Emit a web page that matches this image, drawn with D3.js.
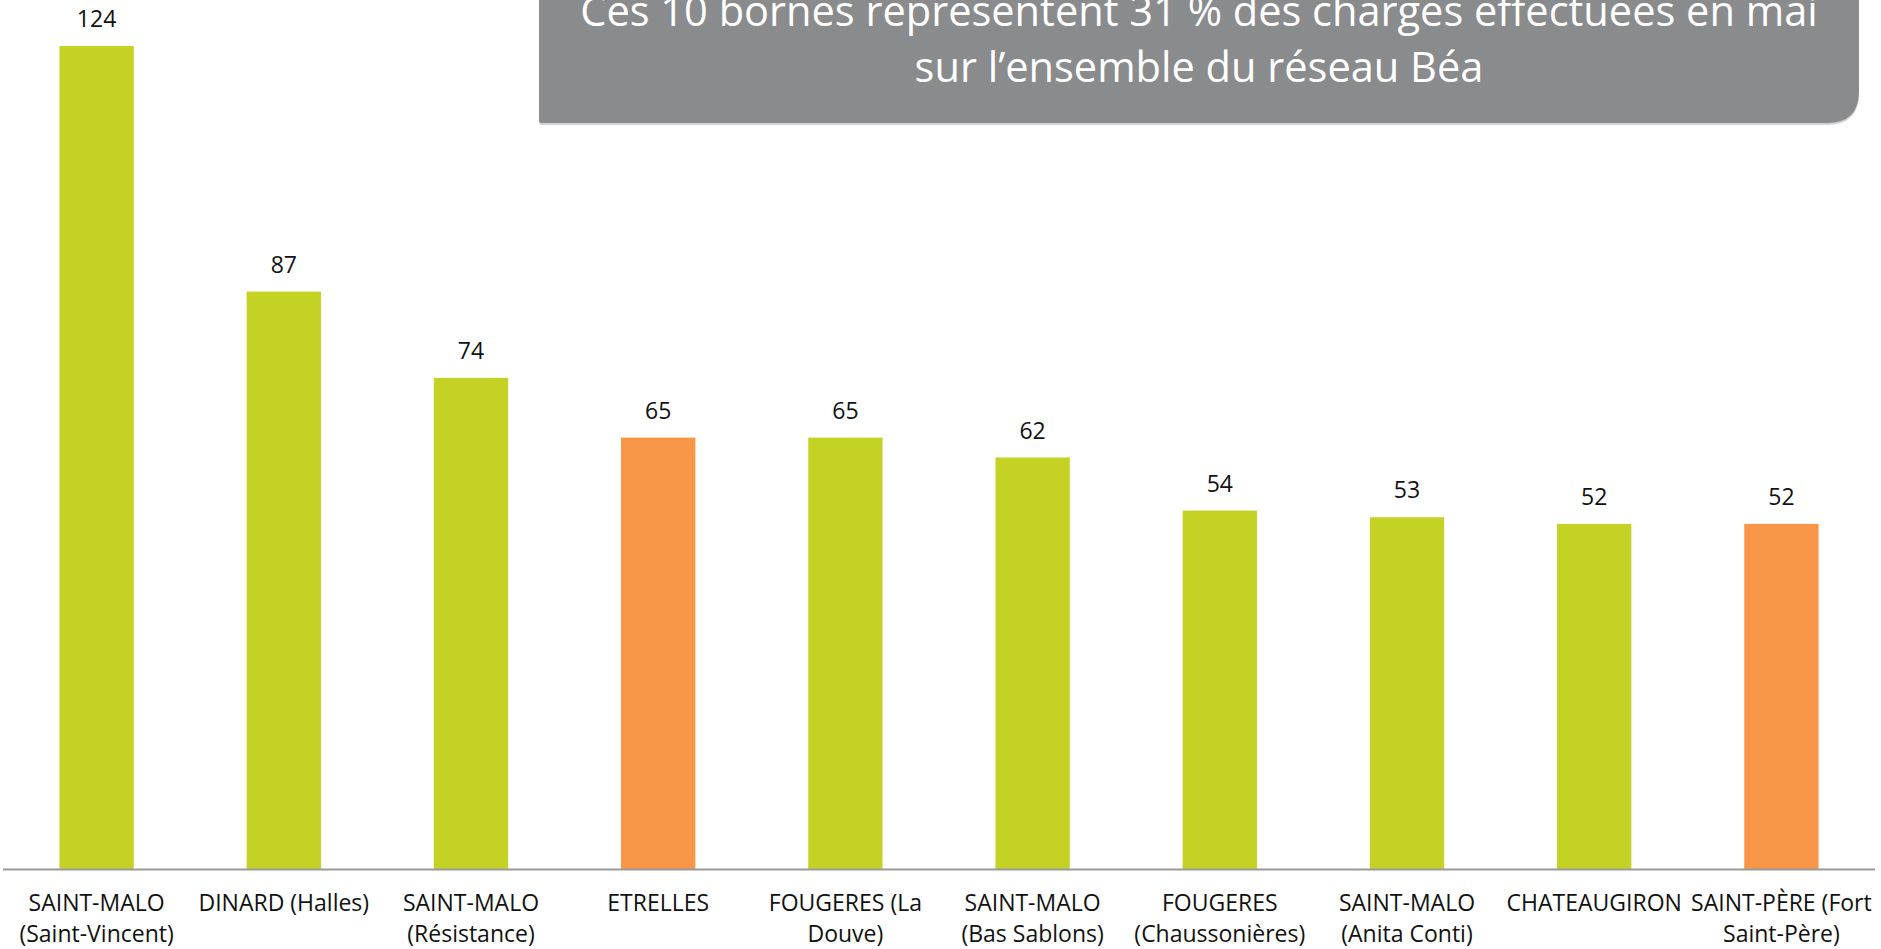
<!DOCTYPE html>
<html>
<head>
<meta charset="utf-8">
<script src="https://cdn.jsdelivr.net/npm/d3@7"></script>
<style>
  html, body { margin: 0; padding: 0; background: #fff; overflow: hidden; }
  svg { display: block; font-family: 'Open Sans', sans-serif; }
</style>
</head>
<body>
<svg id="chart" width="1881" height="949"></svg>
<script>
// Data
const categories = [
    'SAINT-MALO\n(Saint-Vincent)',
    'DINARD (Halles)',
    'SAINT-MALO\n(Résistance)',
    'ETRELLES',
    'FOUGERES (La\nDouve)',
    'SAINT-MALO\n(Bas Sablons)',
    'FOUGERES\n(Chaussonières)',
    'SAINT-MALO\n(Anita Conti)',
    'CHATEAUGIRON',
    'SAINT-PÈRE (Fort\nSaint-Père)'
];
const values = [124, 87, 74, 65, 65, 62, 54, 53, 52, 52];
const highlighted = [false, false, false, true, false, false, false, false, false, true];
const titleLines = [
    'Ces 10 bornes représentent 31 % des charges effectuées en mai',
    'sur l\u2019ensemble du réseau Béa'
];

const green = '#c4d226';
const orange = '#f79646';

const svg = d3.select('#chart');

// Scales
const x = d3.scaleBand()
    .domain(d3.range(categories.length))
    .range([3, 1875])
    .paddingInner(0.603)
    .paddingOuter(0.3015);

const y = d3.scaleLinear()
    .domain([0, d3.max(values)])
    .range([869, 46]);

// Bars
svg.append('g')
    .selectAll('rect')
    .data(values)
    .join('rect')
    .attr('x', (d, i) => x(i))
    .attr('y', d => y(d))
    .attr('width', x.bandwidth())
    .attr('height', d => y(0) - y(d))
    .attr('fill', (d, i) => highlighted[i] ? orange : green);

// Value labels
svg.append('g')
    .selectAll('text')
    .data(values)
    .join('text')
    .attr('x', (d, i) => x(i) + x.bandwidth() / 2)
    .attr('y', d => y(d) - 19)
    .attr('text-anchor', 'middle')
    .style('font-size', '23px')
    .style('fill', '#111')
    .text(d => d);

// X axis line
svg.append('line')
    .attr('x1', 3)
    .attr('x2', 1875)
    .attr('y1', y(0) + 0.5)
    .attr('y2', y(0) + 0.5)
    .attr('stroke', '#9a9a9a')
    .attr('stroke-width', 2);

// Category labels (two lines max)
const catLabels = svg.append('g')
    .selectAll('text')
    .data(categories)
    .join('text')
    .attr('x', (d, i) => x(i) + x.bandwidth() / 2)
    .attr('y', 911)
    .attr('text-anchor', 'middle')
    .style('font-size', '23px')
    .style('fill', '#111');

catLabels.each(function(d) {
    const t = d3.select(this);
    const cx = t.attr('x');
    d.split('\n').forEach((line, k) => {
        t.append('tspan')
            .attr('x', cx)
            .attr('dy', k === 0 ? 0 : 31)
            .text(line);
    });
});

// Title box (only bottom-right corner rounded)
const bx0 = 539, bx1 = 1859, by1 = 123, r = 32;
const boxPath = `M${bx0},-10 L${bx1},-10 L${bx1},${by1 - r} Q${bx1},${by1} ${bx1 - r},${by1} L${bx0 + 3},${by1} Q${bx0},${by1} ${bx0},${by1 - 3} Z`;

svg.append('path')
    .attr('d', boxPath)
    .attr('transform', 'translate(0,2)')
    .attr('fill', '#d4d4d4');

svg.append('path')
    .attr('d', boxPath)
    .attr('fill', '#8a8b8d');

const title = svg.append('g')
    .selectAll('text')
    .data(titleLines)
    .join('text')
    .attr('x', (bx0 + bx1) / 2)
    .attr('y', (d, i) => 26 + i * 56)
    .attr('text-anchor', 'middle')
    .style('font-size', '34px')
    .style('fill', '#fff')
    .text(d => d);

// fit the first line to the width seen in the reference
const w0 = title.node().getComputedTextLength();
const fs = 34 * 1238 / w0;
title.style('font-size', fs + 'px');
</script>
</body>
</html>
